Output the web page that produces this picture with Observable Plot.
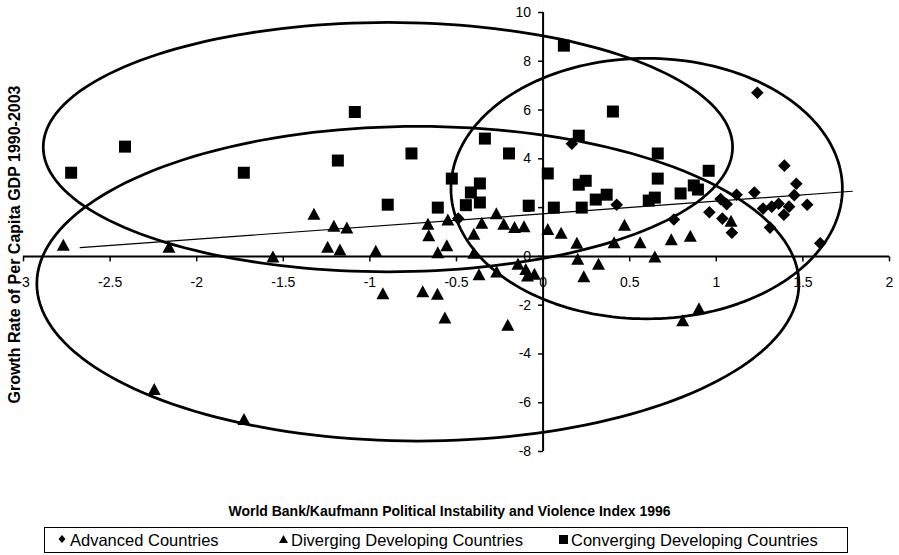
<!DOCTYPE html>
<html><head><meta charset="utf-8">
<script src="https://cdn.jsdelivr.net/npm/d3@7"></script>
<script src="https://cdn.jsdelivr.net/npm/@observablehq/plot@0.6"></script>
<style>
body{margin:0;background:#fff;font-family:"Liberation Sans",Arial,sans-serif;}
#wrap{position:relative;width:899px;height:555px;overflow:hidden;}
#chart{position:absolute;left:0;top:0;}
#xtitle{position:absolute;left:0;width:899px;top:502px;text-align:center;font-weight:bold;font-size:14px;line-height:18px;}
#legend{position:absolute;left:44px;top:527px;width:804px;height:26px;border:1px solid #000;box-sizing:border-box;font-size:16.5px;}
.item{position:absolute;top:0;height:24px;line-height:24px;white-space:nowrap;}
.item svg{position:absolute;top:0;}
</style></head><body>
<div id="wrap"><div id="chart"></div><div id="xtitle"></div><div id="legend"></div></div>
<script>
// ---- data ----
const seriesNames = ["Advanced Countries", "Diverging Developing Countries", "Converging Developing Countries"];
const xTitle = "World Bank/Kaufmann Political Instability and Violence Index 1996";
const yTitle = "Growth Rate of Per Capita GDP 1990-2003";
const xTicks = [-3, -2.5, -2, -1.5, -1, -0.5, 0, 0.5, 1, 1.5, 2];
const yTicks = [-8, -6, -4, -2, 0, 2, 4, 6, 8, 10];

const advX = [-0.49, 0.166, 0.425, 0.755, 1.237, 1.393, 1.462, 1.45, 1.22, 1.117, 1.025, 1.06, 0.96, 1.035, 1.09, 1.27, 1.32, 1.36, 1.42, 1.39, 1.525, 1.31, 1.60];
const advY = [1.55, 4.62, 2.12, 1.51, 6.71, 3.72, 2.98, 2.51, 2.62, 2.53, 2.35, 2.14, 1.81, 1.55, 0.97, 1.96, 2.04, 2.16, 2.04, 1.71, 2.12, 1.18, 0.54];

const divX = [-2.77, -2.16, -2.245, -1.727, -1.56, -1.323, -1.208, -1.133, -1.244, -1.173, -0.966, -0.925, -0.695, -0.665, -0.66, -0.608, -0.61, -0.556, -0.55, -0.567, -0.40, -0.354, -0.40, -0.37, -0.27, -0.227, -0.165, -0.11, -0.145, -0.10, -0.09, -0.05, -0.268, -0.204, 0.027, 0.104, 0.195, 0.20, 0.235, 0.32, 0.41, 0.47, 0.56, 0.645, 0.74, 0.85, 1.085, 0.806, 0.90];
const divY = [0.48, 0.40, -5.44, -6.67, 0.0, 1.75, 1.26, 1.18, 0.40, 0.28, 0.23, -1.51, -1.43, 1.34, 0.87, 0.17, -1.53, 0.46, 1.51, -2.51, 0.93, 1.38, 0.15, -0.73, 1.77, 1.34, 1.20, 1.24, -0.30, -0.52, -0.78, -0.71, -0.62, -2.80, 1.12, 0.97, 0.56, -0.10, -0.81, -0.30, 0.58, 1.30, 0.58, 0.0, 0.70, 0.85, 1.46, -2.62, -2.13];

const conX = [-2.725, -2.414, -1.728, -1.087, -1.185, -0.76, -0.897, 0.12, -0.336, -0.197, -0.527, -0.417, -0.365, -0.365, -0.446, -0.608, -0.083, 0.027, 0.062, 0.403, 0.206, 0.246, 0.206, 0.223, 0.304, 0.367, 0.662, 0.662, 0.61, 0.645, 0.956, 0.794, 0.87, 0.894];
const conY = [3.43, 4.50, 3.43, 5.92, 3.93, 4.22, 2.12, 8.64, 4.83, 4.22, 3.19, 2.62, 2.99, 2.21, 2.10, 2.0, 2.08, 3.40, 2.0, 5.94, 4.95, 3.10, 2.94, 2.0, 2.33, 2.53, 4.22, 3.19, 2.29, 2.41, 3.51, 2.58, 2.91, 2.74];

// linear trend line end points
const trendX = [-2.673, 1.785];
const trendY = [0.357, 2.67];

// hand-drawn ellipses (centre and semi-axes, data units)
const ellCx = [-0.896, -0.723, 0.598];
const ellCy = [4.48, -1.12, 2.78];
const ellRx = [1.99, 2.2, 1.13];
const ellRy = [5.11, 6.45, 5.34];

// ---- symbols ----
const R = s => Math.sqrt(s / Math.PI);
const symSquare = {draw(c, s){const r = R(s); c.rect(-r, -r, 2*r, 2*r);}};
const symTriangle = {draw(c, s){const r = R(s); c.moveTo(0, -r); c.lineTo(r*1.08, r); c.lineTo(-r*1.08, r); c.closePath();}};
const symDiamond = {draw(c, s){const r = R(s); c.moveTo(0, -r); c.lineTo(r, 0); c.lineTo(0, r); c.lineTo(-r, 0); c.closePath();}};
const symTickDown = {draw(c, s){const r = R(s); c.moveTo(0, 0); c.lineTo(0, r);}};
const symTickLeft = {draw(c, s){const r = R(s); c.moveTo(0, 0); c.lineTo(-r, 0);}};

const adv = advX.map((x, i) => ({x, y: advY[i]}));
const div = divX.map((x, i) => ({x, y: divY[i]}));
const con = conX.map((x, i) => ({x, y: conY[i]}));
const trend = trendX.map((x, i) => ({x, y: trendY[i]}));
const angles = d3.range(0, 361, 2).map(a => a * Math.PI / 180);
const ellPts = ellCx.flatMap((cx, k) => angles.map(t => ({id: k, x: cx + ellRx[k]*Math.cos(t), y: ellCy[k] + ellRy[k]*Math.sin(t)})));

const font = '"Liberation Sans", Arial, sans-serif';
const chart = Plot.plot({
  width: 899, height: 480,
  marginLeft: 23, marginRight: 10, marginTop: 12, marginBottom: 29,
  x: {domain: [-3, 2], axis: null},
  y: {domain: [-8, 10], axis: null},
  style: {fontFamily: font, background: "white", color: "black"},
  marks: [
    Plot.ruleY([0], {stroke: "black", strokeWidth: 2}),
    Plot.ruleX([0], {stroke: "black", strokeWidth: 2}),
    Plot.dot(xTicks, {x: d => d, y: 0, symbol: symTickDown, r: 5, fill: "none", stroke: "black", strokeWidth: 1.5}),
    Plot.dot(yTicks, {x: 0, y: d => d, symbol: symTickLeft, r: 5, fill: "none", stroke: "black", strokeWidth: 1.5}),
    Plot.text(xTicks, {x: d => d, y: 0, dy: 26, text: d => String(d), fontSize: 14, fill: "black"}),
    Plot.text(yTicks, {x: 0, y: d => d, dx: -12, textAnchor: "end", text: d => String(d), fontSize: 14, fill: "black"}),
    Plot.line(trend, {x: "x", y: "y", stroke: "black", strokeWidth: 1.2}),
    Plot.dot(con, {x: "x", y: "y", symbol: symSquare, r: 6, fill: "black", stroke: "none"}),
    Plot.dot(div, {x: "x", y: "y", symbol: symTriangle, r: 6, fill: "black", stroke: "none"}),
    Plot.dot(adv, {x: "x", y: "y", symbol: symDiamond, r: 6.3, fill: "black", stroke: "none"}),
    Plot.line(ellPts, {x: "x", y: "y", z: "id", stroke: "black", strokeWidth: 2.75, fill: "none"}),
    Plot.text([yTitle], {frameAnchor: "left", rotate: -90, dx: -9, dy: 12.5, textAnchor: "middle", fontWeight: "bold", fontSize: 16, fill: "black"})
  ]
});
document.getElementById("chart").appendChild(chart);
document.getElementById("xtitle").textContent = xTitle;

// legend
const legend = document.getElementById("legend");
const legendPos = [18, 239, 519];
const legendShapes = [
  '<polygon points="4,1 7.5,5 4,9 0.5,5" fill="black"/>',
  '<polygon points="4.5,1 9,9 0,9" fill="black"/>',
  '<rect x="0" y="1" width="9" height="9" fill="black"/>'
];
seriesNames.forEach((name, i) => {
  const it = document.createElement("div");
  it.className = "item";
  it.style.left = legendPos[i] - 5 + "px";
  it.innerHTML = `<svg width="10" height="12" style="top:6px;left:0">${legendShapes[i]}</svg><span style="margin-left:12px">${name}</span>`;
  legend.appendChild(it);
});
</script>
</body></html>
